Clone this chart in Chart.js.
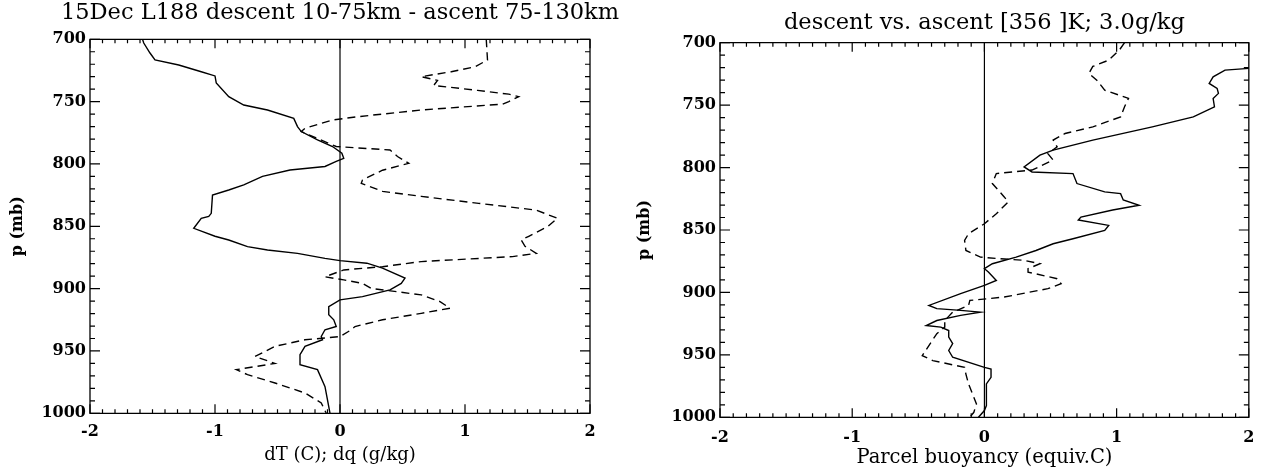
<!DOCTYPE html>
<html>
<head>
<meta charset="utf-8">
<script src="https://cdn.jsdelivr.net/npm/chart.js@4.4.1/dist/chart.umd.min.js"></script>
<style>
  html, body { margin: 0; padding: 0; background: #fff; }
  #wrap { position: relative; width: 1265px; height: 474px; overflow: hidden; }
  .pane { position: absolute; top: 0; }
</style>
</head>
<body>
<div id="wrap">
  <div class="pane" style="left:0;width:680px;height:474px;"><canvas id="c1" width="680" height="474"></canvas></div>
  <div class="pane" style="left:630px;width:635px;height:474px;"><canvas id="c2" width="635" height="474"></canvas></div>
</div>
<script>
// ---------------- DATA ----------------
const leftTitle = "15Dec L188 descent 10-75km - ascent 75-130km";
const rightTitle = "descent vs. ascent [356 ]K; 3.0g/kg";
const leftXTitle = "dT (C); dq (g/kg)";
const rightXTitle = "Parcel buoyancy (equiv.C)";
const yTitle = "p (mb)";

const pTicks = [700, 750, 800, 850, 900, 950, 1000];
const xTicks = [-2, -1, 0, 1, 2];

// Left panel: solid = dT, dashed = dq
const leftSolidP = [700,703,711,716.6,720.6,726,729.4,735,746,752.7,756.7,763.4,770,774,780.7,786,791.4,795.5,798,802,804.8,810,816.8,820.9,825,839.6,842,843.6,851.6,858,861,866.3,869,871.7,875.7,877.5,879.6,883.6,891.6,895.8,901,906.4,909,914.4,921,925,930.4,933,938.4,941,946.3,953,961,965,978.6,994.6,1000];
const leftSolidX = [-1.58,-1.57,-1.52,-1.48,-1.29,-1.11,-1.0,-0.99,-0.89,-0.77,-0.58,-0.37,-0.34,-0.31,-0.18,-0.06,0.015,0.03,-0.03,-0.12,-0.4,-0.62,-0.77,-0.89,-1.02,-1.03,-1.05,-1.11,-1.17,-1.0,-0.89,-0.74,-0.58,-0.34,-0.12,0,0.215,0.34,0.52,0.49,0.4,0.18,0,-0.09,-0.09,-0.05,-0.03,-0.12,-0.15,-0.14,-0.28,-0.32,-0.32,-0.18,-0.12,-0.09,-0.08];

const leftDashP = [700,716.6,722,726,730,733,737,741,744,746,750,752,756.7,762,764.7,771.4,774,786,788.8,794,799.5,805,812.8,815.5,822,826,831.6,837,843.6,850.3,858,861,866,871.7,874.3,878.3,882.4,885,890.5,893,895.8,899.8,905,910.4,915.7,919.8,925,930.4,933,938.5,941,946.3,954.4,960,965,969,975.7,983.7,991.7,1000];
const leftDashX = [1.17,1.18,1.08,0.89,0.65,0.78,0.75,1.1,1.35,1.43,1.35,1.3,0.65,0.15,-0.06,-0.28,-0.31,-0.03,0.4,0.46,0.55,0.34,0.18,0.17,0.34,0.65,1.11,1.57,1.74,1.66,1.51,1.45,1.48,1.57,1.38,0.65,0.34,0.03,-0.12,0.03,0.18,0.25,0.65,0.8,0.88,0.65,0.34,0.12,0.09,0,-0.28,-0.52,-0.68,-0.52,-0.83,-0.74,-0.52,-0.28,-0.15,-0.11];

// Right panel: parcel buoyancy, solid = descent, dashed = ascent
const rightSolidP = [720.6,722,727.3,732.6,736.6,740.6,744.7,751.3,759.4,767.4,778,786,790,799.5,803.5,804.8,812.8,819.5,820.9,826,830.2,834,839.6,842,846.3,850.3,857,861,866.4,871.7,877,881,883.7,890.4,894.4,901,910.4,913,914.4,915.8,918.4,922.5,926.5,927.8,930.5,935.8,941,946.5,951.9,960,961.4,968,973.3,981.3,990.6,994.6,1000];
const rightSolidX = [2.0,1.82,1.73,1.70,1.76,1.77,1.73,1.74,1.58,1.27,0.82,0.52,0.42,0.30,0.36,0.67,0.70,0.91,1.03,1.05,1.17,0.97,0.73,0.71,0.94,0.91,0.67,0.52,0.39,0.24,0.06,0,0.03,0.09,0,-0.18,-0.42,-0.36,-0.18,-0.03,-0.18,-0.36,-0.44,-0.33,-0.27,-0.27,-0.24,-0.27,-0.24,0,0.05,0.05,0.015,0.015,0.015,0,-0.045];

const rightDashP = [700,706,714,719,724.6,730,738,744.6,751.3,759.4,767.4,772.7,778,783.4,788.8,794,802,804.8,812.8,823.5,827.5,837,845,853,858.3,866.4,871.7,873,874.3,877,881,883.7,889,893,897,903.7,906.4,910.4,915.8,922.5,927.8,933,941,950.6,954.6,960,965.4,973.3,981.3,989.3,996,1000];
const rightDashX = [1.06,1.02,0.94,0.82,0.79,0.85,0.91,1.09,1.06,1.03,0.82,0.61,0.52,0.55,0.48,0.52,0.36,0.09,0.06,0.15,0.18,0.09,0,-0.12,-0.15,-0.14,-0.03,0.12,0.3,0.42,0.33,0.33,0.55,0.58,0.48,0.15,-0.11,-0.12,-0.24,-0.3,-0.3,-0.36,-0.41,-0.47,-0.39,-0.15,-0.14,-0.12,-0.09,-0.06,-0.08,-0.11];

// ---------------- HELPERS ----------------
const FONT = "'DejaVu Serif', 'Liberation Serif', serif";
const pMin = pTicks[0], pMax = pTicks[pTicks.length - 1];
const xMin = xTicks[0], xMax = xTicks[xTicks.length - 1];

function pts(ps, xs) { return ps.map((p, i) => ({ x: xs[i], y: p })); }

const framePlugin = {
  id: 'frame',
  afterDatasetsDraw(chart) {
    const { ctx, chartArea: a, scales } = chart;
    const xs = scales.x, ys = scales.y;
    ctx.save();
    ctx.strokeStyle = '#000';
    ctx.lineWidth = 1.3;
    ctx.beginPath();
    ctx.rect(a.left, a.top, a.right - a.left, a.bottom - a.top);
    ctx.stroke();
    ctx.lineWidth = 1.2;
    ctx.beginPath();
    for (let v = pMin; v <= pMax; v += 10) {
      const py = ys.getPixelForValue(v);
      const len = (v % 50 === 0) ? 10 : 5;
      ctx.moveTo(a.left, py); ctx.lineTo(a.left + len, py);
      ctx.moveTo(a.right, py); ctx.lineTo(a.right - len, py);
    }
    for (let i = xMin * 10; i <= xMax * 10; i++) {
      const px = xs.getPixelForValue(i / 10);
      const len = (i % 10 === 0) ? 9 : 4;
      ctx.moveTo(px, a.bottom); ctx.lineTo(px, a.bottom - len);
      ctx.moveTo(px, a.top); ctx.lineTo(px, a.top + len);
    }
    ctx.stroke();
    ctx.restore();
  }
};

function makeChart(id, cfg) {
  const datasets = [
    { data: [{ x: 0, y: pMin }, { x: 0, y: pMax }], borderColor: '#000', borderWidth: 1.2 },
    { data: pts(cfg.solidP, cfg.solidX), borderColor: '#000', borderWidth: 1.4 },
    { data: pts(cfg.dashP, cfg.dashX), borderColor: '#000', borderWidth: 1.4, borderDash: [8, 5] }
  ];
  return new Chart(document.getElementById(id), {
    type: 'scatter',
    data: { datasets: datasets.map(d => Object.assign({ showLine: true, pointRadius: 0, tension: 0, fill: false }, d)) },
    options: {
      responsive: false,
      animation: false,
      events: [],
      layout: { padding: { left: 0, right: cfg.padRight, top: 0, bottom: 0 } },
      plugins: {
        legend: { display: false },
        tooltip: { enabled: false },
        title: {
          display: true, text: cfg.title, fullSize: cfg.titleFull, color: '#000',
          font: { family: FONT, size: 22.5, weight: 'normal', lineHeight: 1.2 },
          padding: { top: cfg.titlePadTop, bottom: cfg.titlePadBottom }
        }
      },
      scales: {
        x: {
          type: 'linear', min: xMin, max: xMax,
          afterBuildTicks: s => { s.ticks = xTicks.map(v => ({ value: v })); },
          afterFit: s => { s.height = cfg.xAxisHeight; },
          grid: { display: false, drawTicks: false },
          border: { display: false },
          ticks: { color: '#000', padding: cfg.xTickPad, callback: v => String(v),
                   font: { family: FONT, size: 16, weight: 'bold' } },
          title: { display: true, text: cfg.xTitle, color: '#000',
                   font: { family: FONT, size: cfg.xTitleSize, weight: 'normal' }, padding: { top: 0, bottom: cfg.xTitlePadBottom } }
        },
        y: {
          type: 'linear', min: pMin, max: pMax, reverse: true,
          afterBuildTicks: s => { s.ticks = pTicks.map(v => ({ value: v })); },
          afterFit: s => { s.width = cfg.yAxisWidth; },
          grid: { display: false, drawTicks: false },
          border: { display: false },
          ticks: { color: '#000', padding: 4, callback: v => String(v),
                   font: { family: FONT, size: 16, weight: 'bold' } },
          title: { display: true, text: yTitle, color: '#000',
                   font: { family: FONT, size: 16, weight: 'bold' }, padding: { top: cfg.yTitlePadTop, bottom: 0 } }
        },
        // blank spacer on the right so the full-width title centres over the plot
        yR: {
          type: 'linear', position: 'right', min: pMin, max: pMax, reverse: true,
          display: cfg.rightSpacer > 0,
          afterFit: s => { s.width = cfg.rightSpacer; },
          grid: { display: false, drawTicks: false },
          border: { display: false },
          ticks: { display: false }
        }
      }
    },
    plugins: [framePlugin]
  });
}

makeChart('c1', {
  title: leftTitle, xTitle: leftXTitle, xTitleSize: 18, titleFull: true,
  solidP: leftSolidP, solidX: leftSolidX, dashP: leftDashP, dashX: leftDashX,
  padRight: 0, rightSpacer: 90, titlePadTop: 0, titlePadBottom: 12.3,
  xAxisHeight: 60.7, xTickPad: 9, xTitlePadBottom: 8,
  yAxisWidth: 90, yTitlePadTop: 8
});
makeChart('c2', {
  title: rightTitle, xTitle: rightXTitle, xTitleSize: 19.5, titleFull: false,
  solidP: rightSolidP, solidX: rightSolidX, dashP: rightDashP, dashX: rightDashX,
  padRight: 11, rightSpacer: 0, titlePadTop: 9.5, titlePadBottom: 6.2,
  xAxisHeight: 56.7, xTickPad: 10.6, xTitlePadBottom: 4,
  yAxisWidth: 90, yTitlePadTop: 5.4
});
</script>
</body>
</html>
